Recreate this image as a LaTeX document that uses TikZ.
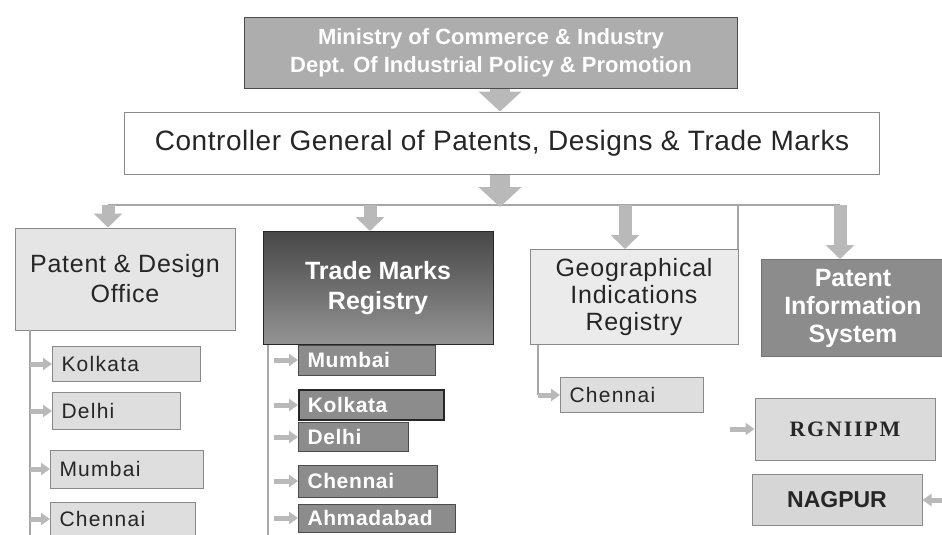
\documentclass[tikz,border=0pt]{standalone}
\usepackage{fontspec}
\setmainfont{Liberation Sans}
\newfontfamily\serifb{Liberation Serif}
\usetikzlibrary{arrows.meta}
\definecolor{arrowgray}{HTML}{B9B9B9}
\definecolor{boxline}{HTML}{8A8A8A}
\tikzset{
  bigarrow/.style={draw=arrowgray, line width=20pt, -{Triangle[width=42pt,length=20pt]}},
  midarrow/.style={draw=arrowgray, line width=13pt, -{Triangle[width=28pt,length=14pt]}},
  tinyarrow/.style={draw=arrowgray, line width=5pt, -{Triangle[width=12pt,length=9pt]}},
  thinline/.style={draw=black!35, line width=1.2pt},
  lightbox/.style={draw=boxline, line width=1pt, fill=black!10, align=center, text=black!85, inner sep=2pt},
  darkbox/.style={draw=black!70, line width=1pt, fill=black!45, align=center, text=white, font=\bfseries, inner sep=2pt},
  lightsub/.style={draw=boxline, line width=1pt, fill=black!13, anchor=west, align=left, text=black!85, inner xsep=9pt,
     font=\fontsize{21}{24}\selectfont\addfontfeature{LetterSpace=6}},
  darksub/.style={draw=black!70, line width=1pt, fill=black!45, anchor=west, align=left, text=white, inner xsep=9pt,
     font=\bfseries\fontsize{21}{24}\selectfont\addfontfeature{LetterSpace=3}},
}
\begin{document}
\begin{tikzpicture}[x=1pt,y=-1pt]
\useasboundingbox[fill=white] (0,0) rectangle (942,535);

% top boxes
\node[darkbox, fill=black!32, text=white, minimum width=493, minimum height=70,
      font=\bfseries\fontsize{22}{28}\selectfont] (min) at (491,53)
  {Ministry of Commerce \& Industry\\Dept. Of Industrial Policy \& Promotion};
\node[draw=boxline, line width=1pt, fill=white, minimum width=755, minimum height=62,
      font=\fontsize{28}{32}\selectfont\addfontfeature{LetterSpace=2}, text=black!85] (ctrl) at (502,143)
  {Controller General of Patents, Designs \& Trade Marks};

\draw[bigarrow] (min.south -| 500,0) -- (ctrl.north -| 500,0);

% bus
\coordinate (bus0) at (500,207);
\coordinate (bL) at (108,205);
\coordinate (bR) at (840,205);
\coordinate (b1) at (108,205);
\coordinate (b2) at (370,205);
\coordinate (b3) at (625,205);
\coordinate (b4) at (840,205);
\coordinate (b5) at (738,205);
\coordinate (e5) at (738,265);
\draw[thinline] (bL) -- (bR);
\draw[thinline] (b5) -- (e5);
\draw[bigarrow] (ctrl.south -| 500,0) -- (bus0);

% second level
\node[lightbox, minimum width=220, minimum height=102, font=\fontsize{25}{30}\selectfont\addfontfeature{LetterSpace=3}] (pdo) at (125,279)
  {Patent \& Design\\Office};
\node[darkbox, draw=black!85, minimum width=230, minimum height=113, top color=black!72, bottom color=black!42,
      font=\bfseries\fontsize{25}{30}\selectfont] (tmr) at (378,288)
  {Trade Marks\\Registry};
\node[lightbox, fill=black!8, minimum width=208, minimum height=95, font=\fontsize{25}{27}\selectfont\addfontfeature{LetterSpace=3}] (gir) at (634,297)
  {Geographical\\Indications\\Registry};
\node[darkbox, fill=black!45, draw=black!55, minimum width=183, minimum height=97,
      font=\bfseries\fontsize{25}{28}\selectfont] (pis) at (853,308)
  {Patent\\Information\\System};

\draw[midarrow] (b1) -- (pdo.north -| b1);
\draw[midarrow] (b2) -- (tmr.north -| b2);
\draw[midarrow] (b3) -- (gir.north -| b3);
\draw[midarrow] (b4) -- (pis.north -| b4);

% Patent & Design Office list
\coordinate (l1) at (30,330);
\coordinate (l1e) at (30,540);
\draw[thinline] (l1) -- (l1e);
\node[lightsub, text width=130, minimum height=35] (pk) at (52,364) {Kolkata};
\node[lightsub, text width=110, minimum height=37] (pd) at (52,411) {Delhi};
\node[lightsub, text width=135, minimum height=38] (pm) at (50,469) {Mumbai};
\node[lightsub, text width=127, minimum height=34] (pc) at (50,519) {Chennai};
\foreach \n in {pk,pd,pm,pc} \draw[tinyarrow] (\n.west -| l1) -- (\n.west);

% Trade Marks list
\coordinate (l2) at (268,345);
\coordinate (l2e) at (268,540);
\draw[thinline] (l2) -- (l2e);
\node[darksub, text width=119, minimum height=30] (tm1) at (298,360) {Mumbai};
\node[darksub, draw=black!85, line width=1.6pt, text width=127, minimum height=30] (tm2) at (298,405) {Kolkata};
\node[darksub, text width=92, minimum height=29] (tm3) at (298,437) {Delhi};
\node[darksub, text width=121, minimum height=32] (tm4) at (298,481) {Chennai};
\node[darksub, text width=139, minimum height=28] (tm5) at (298,518) {Ahmadabad};
\foreach \n in {tm1,tm2,tm3,tm4,tm5} \draw[tinyarrow] ([xshift=6pt]\n.west -| l2) -- (\n.west);

% GI list
\coordinate (l3) at (538,345);
\node[lightsub, text width=125, minimum height=35] (gc) at (560,395) {Chennai};
\draw[thinline] (l3) -- (gc.west -| l3);
\draw[tinyarrow] (gc.west -| l3) -- (gc.west);

% Patent Information System list
\node[lightsub, anchor=center, align=center, fill=black!14, minimum width=180, minimum height=62,
      font=\serifb\bfseries\fontsize{22}{26}\selectfont\addfontfeature{LetterSpace=8}] (rg) at (845,429) {RGNIIPM};
\node[lightsub, anchor=center, align=center, fill=black!16, minimum width=170, minimum height=51,
      font=\bfseries\fontsize{23}{26}\selectfont] (ng) at (837,500) {NAGPUR};
\coordinate (rga) at (730,429);
\coordinate (nga) at (944,500);
\draw[tinyarrow] (rga) -- (rg.west);
\draw[tinyarrow] (nga) -- (ng.east);
\end{tikzpicture}
\end{document}
